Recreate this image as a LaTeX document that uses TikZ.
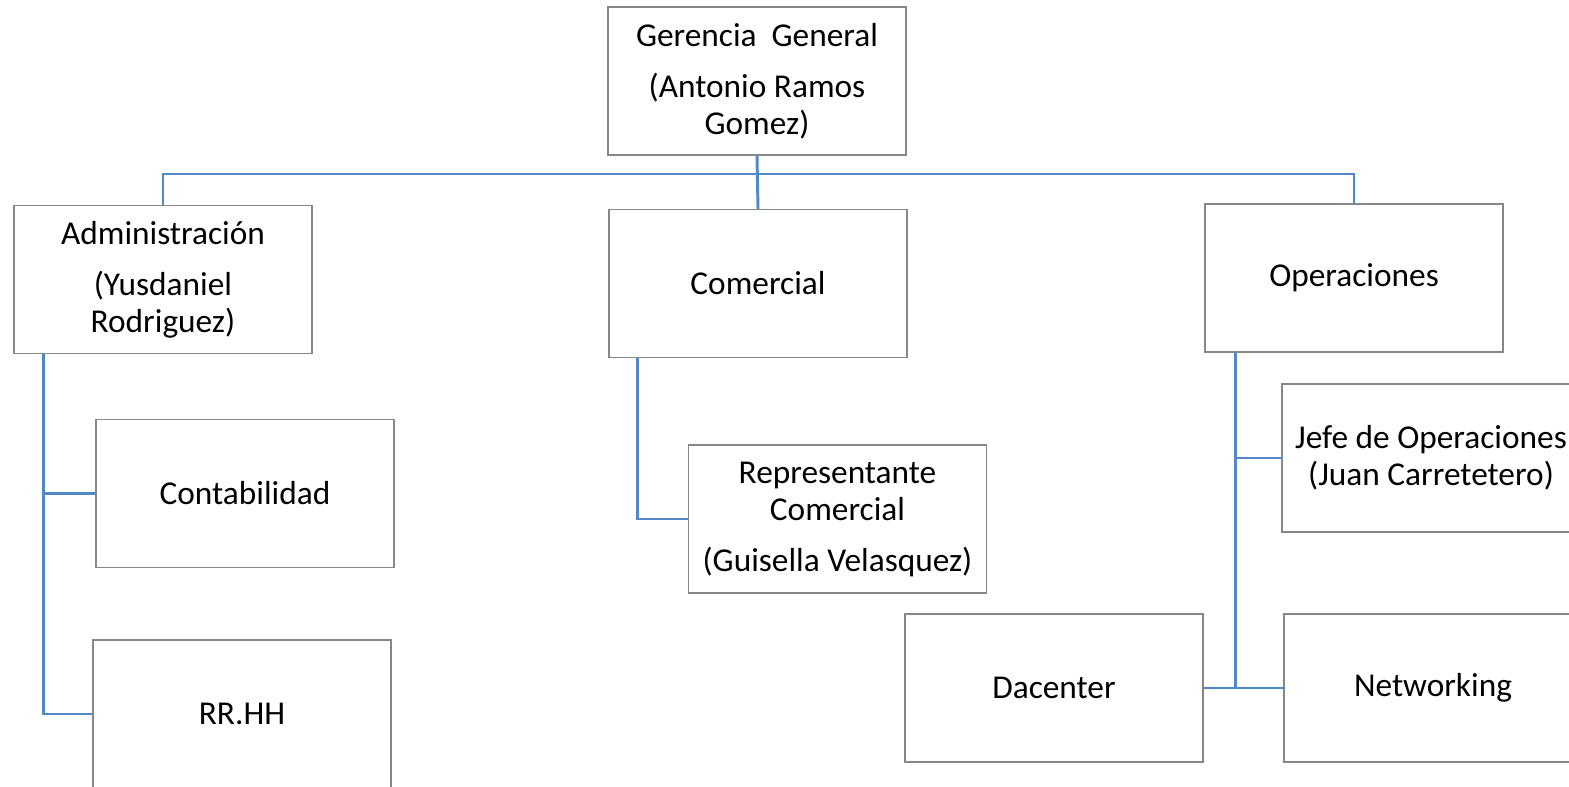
\documentclass[tikz,border=0pt]{standalone}
\usepackage{fontspec}
\setmainfont{Carlito}
\usetikzlibrary{calc}
\definecolor{linkblue}{RGB}{80,136,200}
\definecolor{boxgray}{RGB}{135,135,135}
\tikzset{
	unitbox/.style={draw=boxgray, line width=0.9pt, fill=white, minimum width=223.5pt, minimum height=111pt, inner sep=0pt, align=center, font=\fontsize{25}{27.75}\selectfont},
	orgline/.style={draw=linkblue, line width=2.2pt},
}

\begin{document}
\begin{tikzpicture}[x=0.75pt,y=0.75pt,yscale=-1,xscale=1]
	\useasboundingbox (0,0) rectangle (1569,787);
	\clip (0,0) rectangle (1569,787);
	\fill [white] (0,0) rectangle (1569,787);

	% boxes
	\node [unitbox] (ger) at (757,81) {Gerencia\ \ General\\[10.5pt](Antonio Ramos\\Gomez)};
	\node [unitbox] (adm) at (163,279.5) {Administración\\[10.5pt](Yusdaniel\\Rodriguez)};
	\node [unitbox] (com) at (758,283.5) {Comercial};
	\node [unitbox] (ope) at (1354,278) {Operaciones};
	\node [unitbox] (cont) at (245,493.5) {Contabilidad};
	\node [unitbox] (rrhh) at (242,714) {RR.HH};
	\node [unitbox] (rep) at (837.5,519) {Representante\\Comercial\\[10.5pt](Guisella Velasquez)};
	\node [unitbox] (jefe) at (1431,458) {Jefe de Operaciones\\(Juan Carretetero)};
	\node [unitbox] (dac) at (1054,688) {Dacenter};
	\node [unitbox] (net) at (1433,688) {Networking};

	% connectors
	\coordinate (bus) at (757,174);
	\draw [orgline] (ger.south) -- (com.north);
	\draw [orgline] (adm.north) |- (bus) -| (ope.north);
	\draw [orgline] ($(adm.south west)+(30,0)$) |- (cont.west);
	\draw [orgline] ($(adm.south west)+(30,0)$) |- (rrhh.west);
	\draw [orgline] ($(com.south west)+(29,0)$) |- (rep.west);
	\draw [orgline] ($(ope.south west)+(31,0)$) |- (jefe.west);
	\draw [orgline] ($(ope.south west)+(31,0)$) |- (net.west);
	\draw [orgline] (dac.east) -- (net.west);
\end{tikzpicture}
\end{document}
